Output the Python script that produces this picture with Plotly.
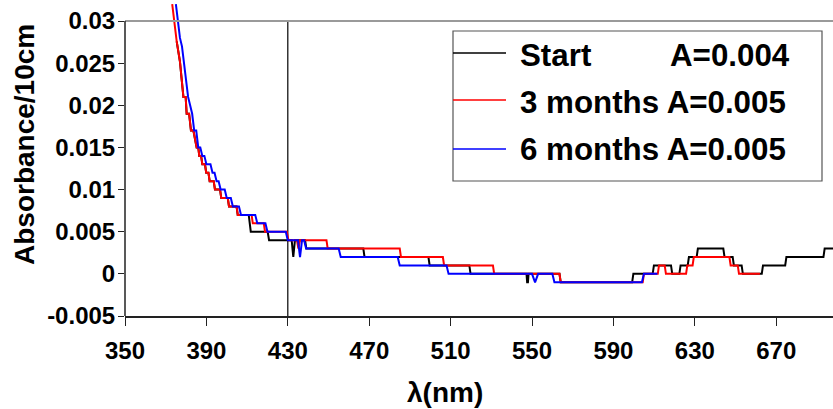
import plotly.graph_objects as go

# Absorbance spectra (wavelength in nm, absorbance per 10 cm), given as the
# vertices of each stepped trace.
start_nm = [375.4, 377.0, 377.8, 378.7, 379.8, 380.3, 381.5, 382.4, 383.6, 384.4,
            385.2, 386.0, 386.5, 387.4, 388.0, 389.3, 389.9, 391.0, 391.6, 393.6,
            394.2, 396.7, 397.3, 400.5, 401.1, 404.8, 405.4, 410.8, 411.8, 420.1,
            420.8, 431.9, 432.7, 433.5, 438.5, 439.1, 467.1, 467.7, 499.1, 499.7,
            519.2, 519.8, 547.3, 547.6, 548.0, 548.3, 563.5, 564.1, 599.2, 599.8,
            609.3, 609.9, 618.3, 618.9, 622.4, 623.0, 626.5, 627.1, 630.9, 631.5,
            644.0, 644.6, 648.6, 649.2, 653.0, 653.6, 662.9, 663.5, 674.4, 675.0,
            693.2, 693.8, 700.0]
start_abs = [0.0276, 0.0252, 0.0232, 0.021, 0.021, 0.019, 0.019, 0.017, 0.017, 0.016,
             0.015, 0.015, 0.014, 0.014, 0.013, 0.013, 0.012, 0.012, 0.011, 0.011,
             0.010, 0.010, 0.009, 0.009, 0.008, 0.008, 0.007, 0.007, 0.005, 0.005,
             0.004, 0.004, 0.002, 0.004, 0.004, 0.003, 0.003, 0.002, 0.002, 0.001,
             0.001, 0.000, 0.000, -0.001, -0.001, 0.000, 0.000, -0.001, -0.001, 0.000,
             0.000, 0.001, 0.001, 0.000, 0.000, 0.001, 0.001, 0.002, 0.002, 0.003,
             0.003, 0.002, 0.002, 0.001, 0.001, 0.000, 0.000, 0.001, 0.001, 0.002,
             0.002, 0.003, 0.003]

m3_nm = [373.2, 374.2, 375.4, 377.0, 377.8, 378.7, 379.8, 380.3, 381.5, 382.4,
         383.6, 384.4, 385.2, 386.0, 386.5, 387.4, 388.0, 389.3, 389.9, 391.0,
         391.6, 393.6, 394.2, 396.7, 397.3, 400.5, 401.1, 404.8, 405.4, 412.2,
         412.8, 418.2, 418.8, 429.5, 430.3, 434.5, 435.2, 436.0, 449.0, 449.6,
         485.0, 485.6, 506.2, 506.8, 530.8, 531.4, 563.5, 564.1, 604.4, 605.0,
         611.8, 612.4, 615.2, 615.8, 625.7, 626.3, 628.9, 629.5, 647.0, 647.6,
         651.1, 651.7, 662.0]
m3_abs = [0.032, 0.030, 0.0276, 0.0252, 0.0232, 0.021, 0.021, 0.019, 0.019, 0.017,
          0.017, 0.016, 0.015, 0.015, 0.014, 0.014, 0.013, 0.013, 0.012, 0.012,
          0.011, 0.011, 0.010, 0.010, 0.009, 0.009, 0.008, 0.008, 0.007, 0.007,
          0.006, 0.006, 0.005, 0.005, 0.004, 0.004, 0.003, 0.004, 0.004, 0.003,
          0.003, 0.002, 0.002, 0.001, 0.001, 0.000, 0.000, -0.001, -0.001, 0.000,
          0.000, 0.001, 0.001, 0.000, 0.000, 0.001, 0.001, 0.002, 0.002, 0.001,
          0.001, 0.000, 0.000]

m6_nm = [375.0, 376.0, 377.0, 378.0, 379.0, 380.0, 381.0, 382.0, 383.0, 384.0,
         385.0, 386.0, 387.0, 388.0, 389.0, 390.0, 392.0, 393.0, 394.0, 395.0,
         396.0, 397.0, 399.0, 400.0, 402.0, 403.0, 406.0, 407.0, 414.0, 415.0,
         419.0, 420.0, 429.0, 430.0, 435.0, 436.0, 437.0, 438.0, 439.0, 455.0,
         456.0, 484.0, 485.0, 508.0, 509.0, 550.0, 551.5, 553.0, 560.0, 561.0,
         604.0, 605.0, 611.6]
m6_abs = [0.032, 0.030, 0.028, 0.027, 0.025, 0.023, 0.021, 0.020, 0.019, 0.017,
          0.017, 0.015, 0.015, 0.014, 0.014, 0.013, 0.013, 0.012, 0.012, 0.011,
          0.011, 0.010, 0.010, 0.009, 0.009, 0.008, 0.008, 0.007, 0.007, 0.006,
          0.006, 0.005, 0.005, 0.004, 0.004, 0.002, 0.004, 0.004, 0.003, 0.003,
          0.002, 0.002, 0.001, 0.001, 0.000, 0.000, -0.001, 0.000, 0.000, -0.001,
          -0.001, 0.000, 0.000]

series_names = ["Start", "3 months", "6 months"]
series_a = ["A=0.004", "A=0.005", "A=0.005"]
series_colors = ["#000000", "#ff0000", "#0000ff"]

x_ticks = [350, 390, 430, 470, 510, 550, 590, 630, 670]
y_ticks = [-0.005, 0, 0.005, 0.01, 0.015, 0.02, 0.025, 0.03]
y_tick_text = ["-0.005", "0", "0.005", "0.01", "0.015", "0.02", "0.025", "0.03"]
marker_nm = 430

FONT = "Liberation Sans, Arial, sans-serif"
W, H = 833, 409
L, R, T, B = 125, 0, 0, 93
plot_w, plot_h = W - L - R, H - T - B


def px(xp):
    return (xp - L) / plot_w


def py(yp):
    return (H - B - yp) / plot_h


fig = go.Figure()
for xs, ys, name, col in zip([start_nm, m3_nm, m6_nm], [start_abs, m3_abs, m6_abs],
                             series_names, series_colors):
    fig.add_trace(go.Scatter(x=xs, y=ys, mode="lines", name=name,
                             line=dict(color=col, width=2), showlegend=False))

shapes = [
    # top frame line
    dict(type="line", xref="paper", yref="y", x0=0, x1=1, y0=0.03, y1=0.03,
         line=dict(color="#9a9a9a", width=2), layer="above"),
    # value axis line
    dict(type="line", xref="paper", yref="y", x0=0, x1=0, y0=-0.005, y1=0.03,
         line=dict(color="#222222", width=1.5), layer="above"),
    # marker wavelength
    dict(type="line", xref="x", yref="y", x0=marker_nm, x1=marker_nm, y0=-0.005, y1=0.03,
         line=dict(color="#000000", width=1.2), layer="below"),
    # legend frame
    dict(type="rect", xref="paper", yref="paper", x0=px(453), x1=px(822), y0=py(181), y1=py(31),
         line=dict(color="#555555", width=1.2), fillcolor="white", layer="above"),
]

LEG_FONT = dict(family=FONT, size=31.3, color="black", weight="bold")
annotations = []
row_line_y = [53, 100, 149]
row_text_y = [56, 102.5, 149.5]
for i, (name, a, col) in enumerate(zip(series_names, series_a, series_colors)):
    shapes.append(dict(type="line", xref="paper", yref="paper", x0=px(453), x1=px(506),
                       y0=py(row_line_y[i]), y1=py(row_line_y[i]),
                       line=dict(color=col, width=1.5), layer="above"))
    if i == 0:
        # first row: name on the left, value pushed to the right edge
        annotations.append(dict(xref="paper", yref="paper", x=px(518), y=py(row_text_y[i]),
                                text=name, showarrow=False, xanchor="left", yanchor="middle",
                                font=LEG_FONT))
        annotations.append(dict(xref="paper", yref="paper", x=px(792), y=py(row_text_y[i]),
                                text=a, showarrow=False, xanchor="right", yanchor="middle",
                                font=LEG_FONT))
    else:
        annotations.append(dict(xref="paper", yref="paper", x=px(518), y=py(row_text_y[i]),
                                text=f"{name} {a}", showarrow=False, xanchor="left",
                                yanchor="middle", font=LEG_FONT))

annotations.append(dict(xref="paper", yref="paper", x=px(445), y=py(392), text="λ(nm)",
                        showarrow=False, xanchor="center", yanchor="middle",
                        font=dict(family=FONT, size=28, color="black", weight="bold")))
annotations.append(dict(xref="paper", yref="paper", x=px(24), y=py(145), text="Absorbance/10cm",
                        textangle=-90, showarrow=False, xanchor="center", yanchor="middle",
                        font=dict(family=FONT, size=28, color="black", weight="bold")))

fig.update_layout(
    width=W, height=H,
    margin=dict(l=L, r=R, t=T, b=B, pad=0),
    paper_bgcolor="white", plot_bgcolor="white",
    shapes=shapes, annotations=annotations, showlegend=False,
    xaxis=dict(range=[350, 697.9], tickmode="array", tickvals=x_ticks,
               ticks="outside", ticklen=8, tickwidth=1.2, tickcolor="#222222",
               ticklabelstandoff=4,
               showline=True, linecolor="#222222", linewidth=1.5,
               showgrid=False, zeroline=False,
               tickfont=dict(family=FONT, size=24, color="black", weight="bold")),
    yaxis=dict(range=[-0.005, 0.0325], tickmode="array", tickvals=y_ticks, ticktext=y_tick_text,
               ticks="outside", ticklen=6, tickwidth=1.2, tickcolor="#222222",
               ticklabelstandoff=-2,
               showline=False, showgrid=False, zeroline=False,
               tickfont=dict(family=FONT, size=24, color="black", weight="bold")),
)

fig.write_html("out.html")
